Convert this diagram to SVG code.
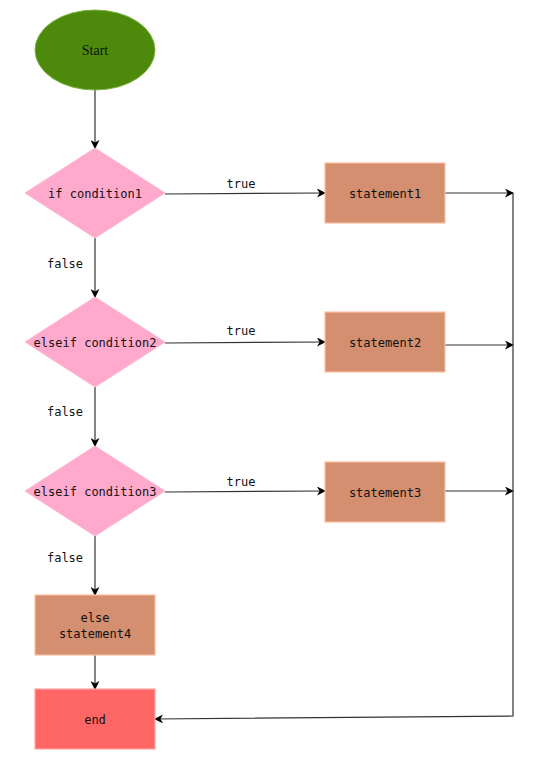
<svg xmlns="http://www.w3.org/2000/svg" width="545" height="780" viewBox="0 0 545 780">
<style>
.mono{font-family:"DejaVu Sans Mono","Liberation Mono",monospace;font-size:12px;fill:#111;text-anchor:middle;dominant-baseline:central}
.dia{fill:#ffaacc;stroke:#ffb6d3;stroke-width:1}
.stmt{fill:#d38f6f;stroke:#ffbf9f;stroke-width:1.2}
.edge{fill:none;stroke:#333;stroke-width:1.2}
.lbl{font-family:"DejaVu Sans Mono","Liberation Mono",monospace;font-size:12px;fill:#111;text-anchor:middle;dominant-baseline:central}
</style>
<defs>
<marker id="arr" viewBox="0 0 10 10" refX="9" refY="5" markerWidth="9" markerHeight="9" markerUnits="userSpaceOnUse" orient="auto">
<path d="M0,0 L10,5 L0,10 L3,5 Z" fill="#000"/>
</marker>
</defs>
<rect width="545" height="780" fill="#fff"/>
<g id="edges">
<line class="edge" x1="95" y1="90" x2="95" y2="148" marker-end="url(#arr)"/>
<line class="edge" x1="165" y1="194" x2="325" y2="193" marker-end="url(#arr)"/>
<line class="edge" x1="95" y1="238" x2="95" y2="297" marker-end="url(#arr)"/>
<line class="edge" x1="165" y1="343" x2="325" y2="342" marker-end="url(#arr)"/>
<line class="edge" x1="95" y1="387" x2="95" y2="446" marker-end="url(#arr)"/>
<line class="edge" x1="165" y1="492" x2="325" y2="491" marker-end="url(#arr)"/>
<line class="edge" x1="95" y1="536" x2="95" y2="595" marker-end="url(#arr)"/>
<line class="edge" x1="95" y1="655" x2="95" y2="689" marker-end="url(#arr)"/>
<line class="edge" x1="445" y1="193" x2="513" y2="193" marker-end="url(#arr)"/>
<line class="edge" x1="445" y1="345" x2="513" y2="345" marker-end="url(#arr)"/>
<line class="edge" x1="445" y1="491" x2="513" y2="491" marker-end="url(#arr)"/>
<polyline class="edge" points="513,193 513,716 155,719" marker-end="url(#arr)"/>
<text class="lbl" x="241" y="184">true</text>
<text class="lbl" x="241" y="331">true</text>
<text class="lbl" x="241" y="482">true</text>
<text class="lbl" x="65" y="264">false</text>
<text class="lbl" x="65" y="412">false</text>
<text class="lbl" x="65" y="558">false</text>
</g>
<g id="start">
<ellipse cx="95" cy="50" rx="60" ry="40" fill="#4d8a0c" stroke="#7cb342" stroke-width="1"/>
<text x="95" y="50" font-family="'Liberation Serif',serif" font-size="14" fill="#111" text-anchor="middle" dominant-baseline="central">Start</text>
</g>
<g id="cond1">
<polygon class="dia" points="95,148 165,193 95,238 25,193"/>
<text class="mono" x="95" y="194">if condition1</text>
</g>
<g id="cond2">
<polygon class="dia" points="95,297 165,342 95,387 25,342"/>
<text class="mono" x="95" y="343">elseif condition2</text>
</g>
<g id="cond3">
<polygon class="dia" points="95,446 165,491 95,536 25,491"/>
<text class="mono" x="95" y="492">elseif condition3</text>
</g>
<g id="statement1">
<rect class="stmt" x="325" y="163" width="120" height="60"/>
<text class="mono" x="385" y="194">statement1</text>
</g>
<g id="statement2">
<rect class="stmt" x="325" y="312" width="120" height="60"/>
<text class="mono" x="385" y="343">statement2</text>
</g>
<g id="statement3">
<rect class="stmt" x="325" y="462" width="120" height="60"/>
<text class="mono" x="385" y="493">statement3</text>
</g>
<g id="statement4">
<rect class="stmt" x="35" y="595" width="120" height="60"/>
<text class="mono" x="95" y="618">else</text>
<text class="mono" x="95" y="634">statement4</text>
</g>
<g id="end">
<rect x="35" y="689" width="120" height="60" fill="#ff6666" stroke="#ffa3a3" stroke-width="1.2"/>
<text class="mono" x="95" y="720">end</text>
</g>
</svg>
